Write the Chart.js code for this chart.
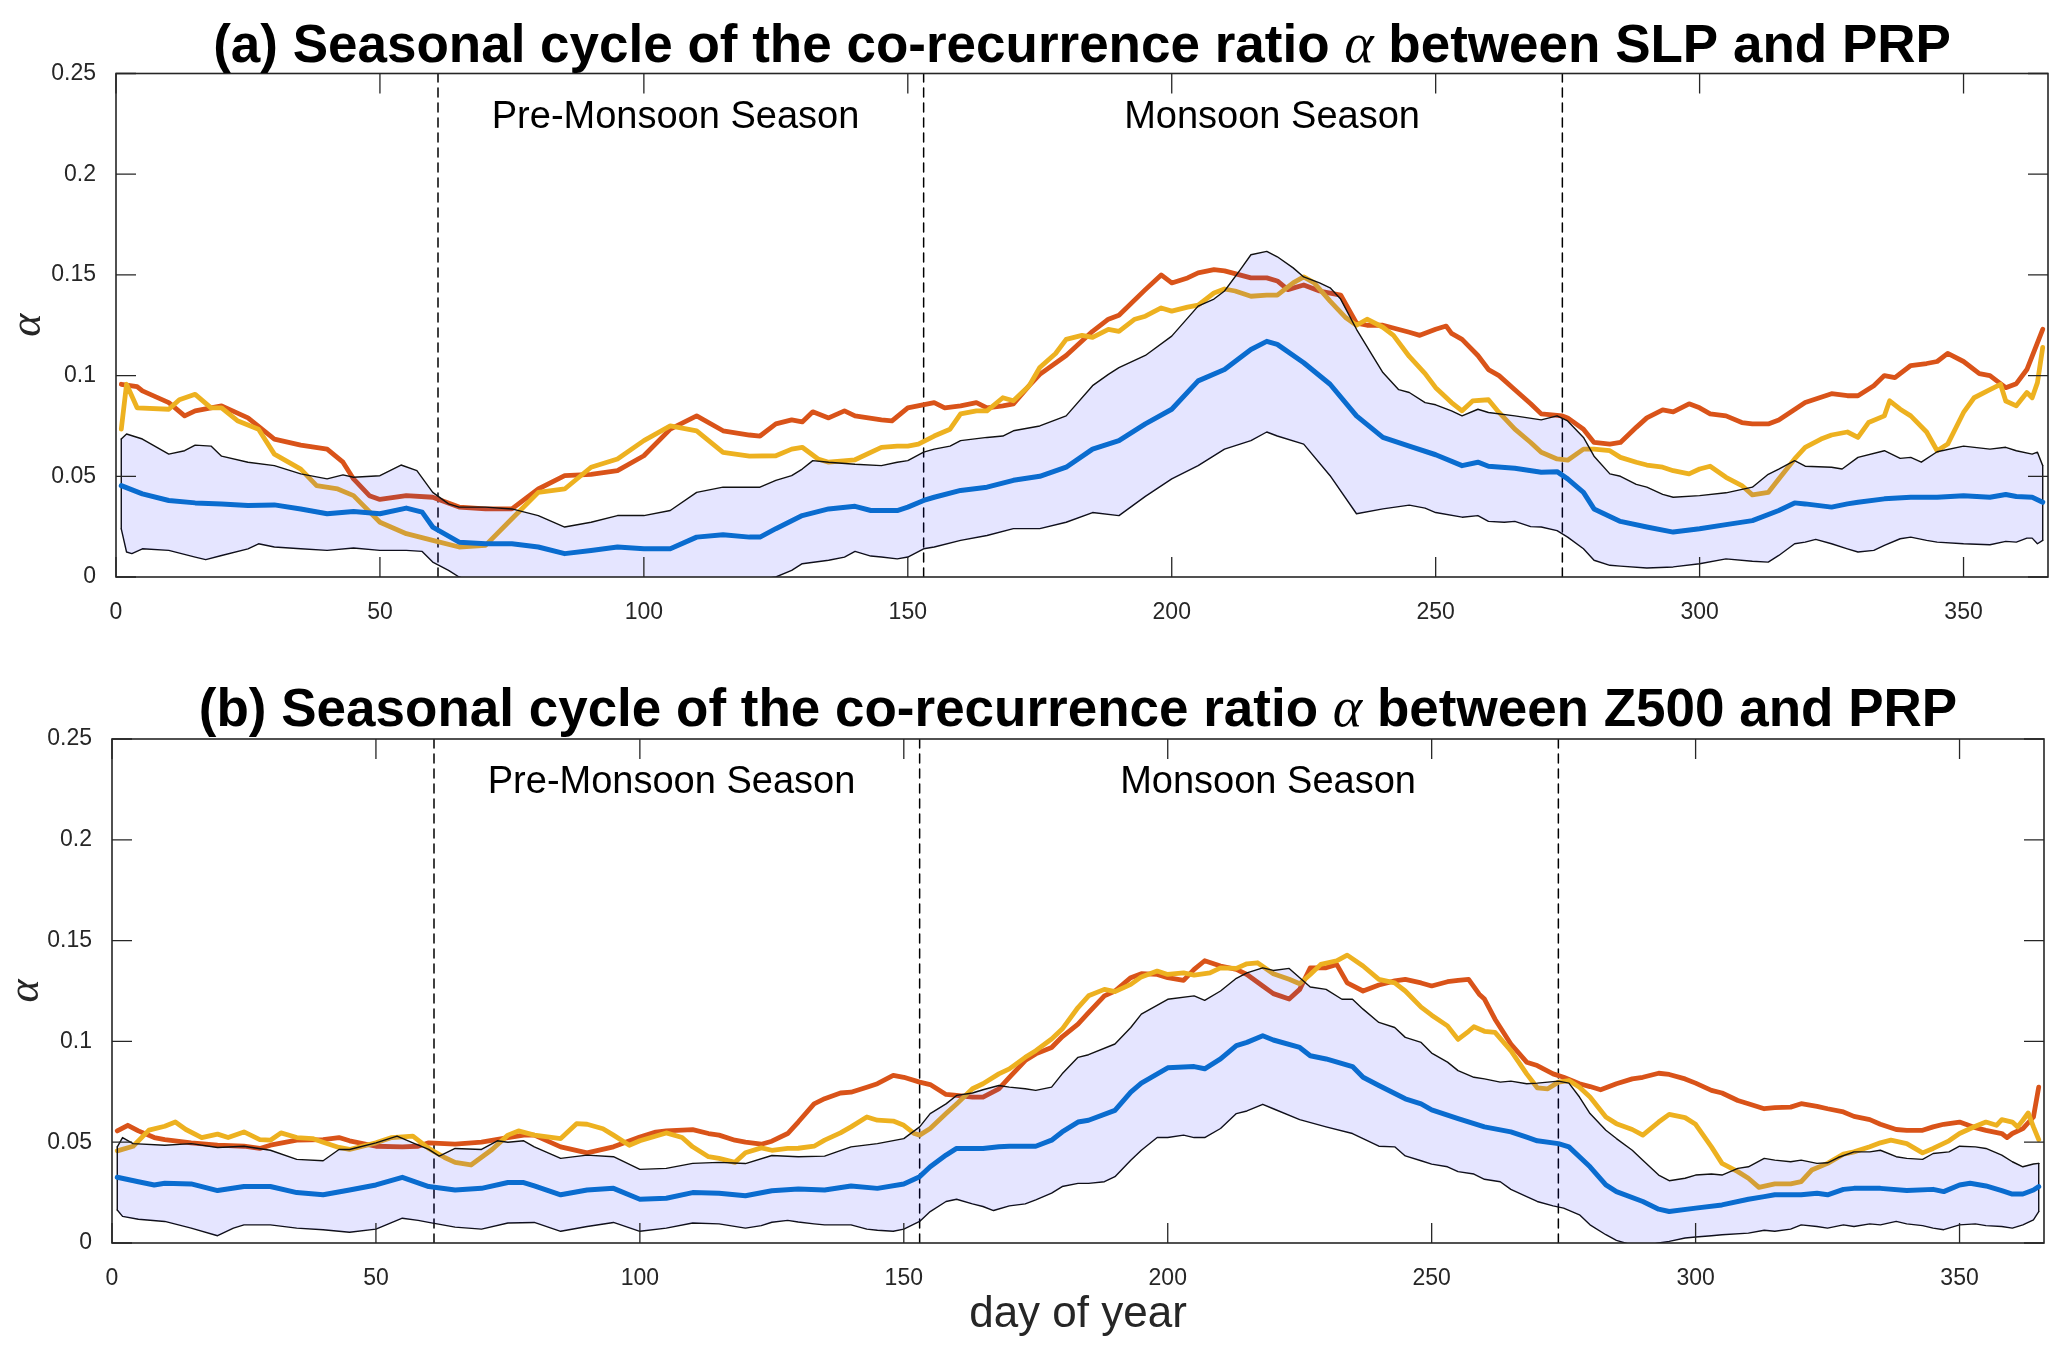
<!DOCTYPE html>
<html><head><meta charset="utf-8">
<script src="https://cdn.jsdelivr.net/npm/chart.js@4.4.1/dist/chart.umd.min.js"></script>
<style>
html,body{margin:0;padding:0;background:#fff;width:2067px;height:1358px;overflow:hidden}
canvas{position:absolute;left:0}
#ca{top:0}
#cb{top:660px}
</style></head><body>
<canvas id="ca" width="2067" height="640"></canvas>
<canvas id="cb" width="2067" height="698"></canvas>
<script>
// ---------------- data ----------------
const xMin = 0, xMax = 366, xStep = 50;
const yMin = 0, yMax = 0.25, yStep = 0.05;
const seasonBounds = [61, 153, 274];
const seasonLabels = ['Pre-Monsoon Season', 'Monsoon Season'];
const seasonLabelDays = [106, 219];
const seasonLabelValue = 0.223;
const titleA = ['(a) Seasonal cycle of the co-recurrence ratio ', 'α', ' between SLP and PRP'];
const titleB = ['(b) Seasonal cycle of the co-recurrence ratio ', 'α', ' between Z500 and PRP'];
const xAxisTitle = 'day of year';
const yAxisTitle = 'α';

// panel (a) SLP
const aRed = [[1,0.0957],[4,0.0945],[5,0.0924],[10,0.0866],[13,0.080],[15,0.0825],[20,0.085],[25,0.079],[30,0.0685],[35,0.0655],[40,0.0635],[43,0.057],[45,0.0487],[48,0.0404],[50,0.0385],[55,0.0404],[60,0.0396],[65,0.0347],[70,0.0338],[75,0.0338],[80,0.0437],[85,0.0503],[90,0.051],[95,0.0528],[100,0.0602],[105,0.0734],[110,0.080],[115,0.0726],[120,0.0705],[122,0.070],[125,0.076],[128,0.078],[130,0.077],[132,0.082],[135,0.079],[138,0.0825],[140,0.080],[145,0.078],[147,0.0775],[150,0.084],[155,0.0866],[157,0.084],[160,0.085],[163,0.0866],[165,0.084],[168,0.085],[170,0.086],[173,0.095],[175,0.1006],[180,0.110],[185,0.122],[188,0.128],[190,0.130],[195,0.1427],[198,0.150],[200,0.146],[203,0.1485],[205,0.151],[208,0.1526],[210,0.152],[215,0.1485],[218,0.1485],[220,0.147],[222,0.1427],[225,0.145],[228,0.142],[230,0.141],[232,0.140],[235,0.126],[237,0.125],[240,0.125],[245,0.1215],[247,0.120],[250,0.123],[252,0.1246],[253,0.121],[255,0.118],[258,0.110],[260,0.103],[262,0.100],[265,0.093],[268,0.086],[270,0.081],[274,0.080],[275,0.079],[278,0.0734],[280,0.0668],[283,0.066],[285,0.0668],[288,0.0743],[290,0.079],[293,0.083],[295,0.082],[298,0.086],[300,0.084],[302,0.081],[305,0.080],[308,0.0767],[310,0.076],[313,0.076],[315,0.078],[320,0.0866],[325,0.091],[328,0.090],[330,0.090],[333,0.095],[335,0.100],[337,0.099],[340,0.105],[343,0.106],[345,0.107],[347,0.111],[350,0.107],[353,0.101],[355,0.100],[358,0.094],[360,0.096],[362,0.103],[365,0.123]];
const aYellow = [[1,0.0734],[2,0.0957],[4,0.084],[10,0.0833],[12,0.088],[15,0.0907],[18,0.084],[20,0.084],[23,0.0776],[27,0.0734],[30,0.061],[35,0.0536],[38,0.0454],[42,0.0437],[45,0.0404],[50,0.0272],[55,0.0215],[60,0.0182],[65,0.0149],[70,0.0157],[75,0.0289],[80,0.042],[85,0.0437],[90,0.0545],[95,0.0586],[100,0.0677],[105,0.075],[110,0.0726],[115,0.0619],[120,0.0600],[125,0.0602],[128,0.0635],[130,0.0644],[133,0.0586],[135,0.057],[140,0.0582],[145,0.0644],[148,0.065],[150,0.065],[152,0.066],[155,0.070],[158,0.0734],[160,0.081],[163,0.0825],[165,0.0825],[168,0.089],[170,0.0875],[173,0.095],[175,0.104],[178,0.111],[180,0.118],[183,0.120],[185,0.119],[188,0.123],[190,0.122],[193,0.128],[195,0.1295],[198,0.1336],[200,0.132],[203,0.134],[205,0.135],[208,0.141],[210,0.143],[212,0.142],[215,0.1394],[218,0.140],[220,0.140],[223,0.146],[225,0.149],[227,0.146],[230,0.137],[233,0.1287],[235,0.125],[237,0.128],[240,0.124],[242,0.120],[245,0.1095],[248,0.101],[250,0.094],[253,0.0866],[255,0.0825],[257,0.0874],[260,0.088],[262,0.0817],[265,0.0734],[268,0.0668],[270,0.0619],[273,0.0586],[275,0.058],[278,0.0635],[280,0.0635],[283,0.0627],[285,0.0594],[288,0.057],[290,0.0556],[293,0.0545],[295,0.0528],[298,0.0512],[300,0.0536],[302,0.055],[305,0.0495],[308,0.0454],[310,0.0408],[313,0.042],[315,0.0487],[318,0.0586],[320,0.0644],[323,0.0685],[325,0.0705],[328,0.072],[330,0.0693],[332,0.0767],[335,0.080],[336,0.0875],[338,0.0833],[340,0.080],[343,0.072],[345,0.0627],[347,0.066],[350,0.0817],[352,0.089],[355,0.093],[357,0.0957],[358,0.0874],[360,0.085],[362,0.0916],[363,0.089],[364,0.0965],[365,0.114]];
const aMean = [[1,0.0454],[5,0.0413],[10,0.038],[15,0.0368],[20,0.0363],[25,0.0355],[30,0.0358],[35,0.0338],[40,0.0314],[45,0.0325],[50,0.0314],[55,0.0342],[58,0.0322],[60,0.0248],[65,0.0173],[70,0.0165],[75,0.0165],[80,0.0149],[85,0.0116],[90,0.0132],[95,0.0149],[100,0.014],[105,0.014],[110,0.0198],[115,0.021],[120,0.0198],[122,0.0198],[125,0.024],[130,0.0305],[135,0.0338],[140,0.0351],[143,0.033],[148,0.033],[150,0.0347],[153,0.038],[155,0.0396],[160,0.043],[165,0.0446],[170,0.048],[175,0.050],[180,0.0545],[185,0.0635],[190,0.0677],[195,0.076],[200,0.0833],[205,0.0974],[210,0.103],[215,0.113],[218,0.117],[220,0.1155],[225,0.1064],[230,0.0957],[235,0.080],[240,0.0693],[245,0.065],[250,0.0607],[255,0.0553],[258,0.057],[260,0.055],[265,0.054],[270,0.052],[273,0.0523],[275,0.0487],[278,0.042],[280,0.0338],[285,0.0276],[290,0.0248],[295,0.0223],[300,0.024],[305,0.026],[310,0.028],[315,0.033],[318,0.0368],[320,0.0363],[325,0.0347],[328,0.0363],[330,0.0371],[335,0.0388],[340,0.0396],[345,0.0396],[350,0.0404],[355,0.0396],[358,0.041],[360,0.040],[363,0.0396],[365,0.0371]];
const aUpper = [[1,0.0685],[2,0.071],[5,0.0685],[10,0.061],[13,0.0627],[15,0.0655],[18,0.065],[20,0.060],[25,0.057],[30,0.0553],[35,0.0512],[40,0.0487],[43,0.0507],[45,0.0495],[50,0.0503],[54,0.0556],[57,0.0528],[60,0.042],[63,0.0363],[65,0.0347],[70,0.0347],[75,0.0338],[80,0.0305],[85,0.0248],[90,0.0272],[95,0.0305],[100,0.0305],[105,0.033],[110,0.042],[115,0.0446],[120,0.0446],[122,0.0446],[125,0.048],[128,0.0503],[130,0.0536],[132,0.0578],[135,0.057],[140,0.056],[145,0.0553],[148,0.057],[150,0.0578],[153,0.062],[155,0.0635],[158,0.065],[160,0.0677],[165,0.0693],[168,0.070],[170,0.0726],[175,0.075],[180,0.080],[185,0.095],[188,0.1006],[190,0.104],[195,0.110],[200,0.1196],[205,0.1345],[208,0.138],[210,0.142],[213,0.1526],[215,0.160],[218,0.1617],[220,0.159],[223,0.1535],[225,0.149],[228,0.146],[230,0.1436],[232,0.138],[235,0.123],[238,0.110],[240,0.1015],[243,0.093],[245,0.0916],[248,0.0866],[250,0.0855],[253,0.0825],[255,0.080],[258,0.0833],[260,0.0817],[265,0.080],[270,0.078],[273,0.080],[275,0.0775],[278,0.0693],[280,0.060],[283,0.0512],[285,0.050],[288,0.046],[290,0.0446],[293,0.041],[295,0.0396],[300,0.0404],[305,0.0418],[310,0.0446],[313,0.051],[315,0.0536],[318,0.0578],[320,0.055],[325,0.0545],[327,0.0536],[330,0.0594],[335,0.0627],[338,0.0589],[340,0.0594],[342,0.057],[345,0.0622],[350,0.065],[355,0.0635],[358,0.0644],[360,0.0627],[363,0.061],[364,0.062],[365,0.0553]];
const aLower = [[1,0.0239],[2,0.0124],[3,0.0116],[5,0.014],[10,0.0132],[15,0.0099],[17,0.0086],[20,0.0107],[25,0.014],[27,0.0165],[30,0.0149],[35,0.014],[40,0.0132],[45,0.0144],[50,0.0132],[55,0.0132],[58,0.0127],[60,0.0074],[63,0.0033],[65,0.0],[70,-0.004],[80,-0.006],[90,-0.007],[100,-0.006],[110,-0.004],[120,-0.002],[125,0.0],[128,0.0033],[130,0.0066],[135,0.0083],[138,0.0099],[140,0.0127],[143,0.0104],[145,0.0099],[148,0.009],[150,0.0099],[153,0.014],[155,0.0149],[160,0.0182],[165,0.0206],[170,0.024],[175,0.024],[180,0.0272],[185,0.032],[190,0.0305],[195,0.040],[200,0.0487],[205,0.0553],[210,0.0635],[215,0.0677],[218,0.072],[220,0.070],[225,0.066],[230,0.0503],[235,0.0314],[240,0.0338],[245,0.0357],[248,0.0342],[250,0.032],[255,0.0297],[258,0.0305],[260,0.0276],[263,0.0272],[265,0.0276],[268,0.025],[270,0.0248],[273,0.023],[275,0.0198],[278,0.014],[280,0.0083],[283,0.0058],[285,0.0054],[290,0.0045],[295,0.005],[300,0.0066],[305,0.009],[310,0.0078],[313,0.0074],[315,0.0107],[318,0.0165],[320,0.0173],[322,0.0187],[325,0.0165],[328,0.014],[330,0.0124],[333,0.0132],[335,0.0157],[338,0.019],[340,0.0198],[343,0.0182],[345,0.0173],[350,0.0165],[355,0.016],[358,0.0177],[360,0.0173],[362,0.0193],[363,0.0193],[364,0.0165],[365,0.0182]];

// panel (b) Z500
const bRed = [[1,0.0556],[3,0.0584],[5,0.0556],[8,0.0523],[10,0.0513],[15,0.0497],[20,0.0485],[25,0.048],[28,0.0469],[30,0.0485],[35,0.051],[40,0.0513],[43,0.0523],[45,0.0507],[50,0.048],[55,0.0477],[58,0.048],[60,0.0497],[65,0.049],[70,0.050],[75,0.0523],[78,0.0535],[80,0.0535],[85,0.0477],[90,0.0447],[95,0.0477],[100,0.0526],[103,0.055],[105,0.0556],[108,0.056],[110,0.0562],[113,0.0543],[115,0.0535],[118,0.051],[120,0.050],[123,0.049],[125,0.0505],[128,0.0543],[130,0.060],[133,0.069],[135,0.0716],[138,0.0744],[140,0.0748],[143,0.0773],[145,0.079],[148,0.0831],[150,0.0822],[153,0.0798],[155,0.0786],[158,0.0737],[160,0.0732],[163,0.0724],[165,0.0724],[168,0.0765],[170,0.0822],[173,0.0905],[175,0.0938],[178,0.097],[180,0.1023],[183,0.1086],[185,0.1143],[188,0.1226],[190,0.125],[193,0.1316],[195,0.1336],[198,0.1332],[200,0.1316],[203,0.1303],[205,0.1357],[207,0.140],[210,0.1374],[213,0.1357],[215,0.1332],[218,0.1275],[220,0.1237],[223,0.121],[225,0.1258],[227,0.1365],[230,0.1365],[232,0.1382],[234,0.129],[237,0.125],[240,0.128],[243,0.130],[245,0.1308],[248,0.129],[250,0.1275],[253,0.1296],[255,0.1303],[257,0.1308],[259,0.1234],[260,0.121],[262,0.111],[265,0.0987],[268,0.0897],[270,0.088],[273,0.0839],[275,0.0822],[278,0.079],[280,0.0776],[282,0.076],[285,0.079],[288,0.0814],[290,0.0822],[293,0.0842],[295,0.0836],[298,0.0814],[300,0.0793],[303,0.0757],[305,0.0744],[308,0.0707],[310,0.0691],[313,0.0666],[315,0.0671],[318,0.0674],[320,0.0691],[323,0.0678],[325,0.0666],[328,0.065],[330,0.0628],[333,0.0612],[335,0.0589],[338,0.0563],[340,0.0559],[343,0.0559],[345,0.0576],[347,0.0589],[350,0.060],[353,0.0572],[355,0.0559],[358,0.0543],[359,0.0523],[360,0.0543],[362,0.0567],[364,0.0625],[365,0.0773]];
const bYellow = [[1,0.0457],[4,0.048],[7,0.056],[10,0.0579],[12,0.060],[14,0.0563],[17,0.0523],[20,0.054],[22,0.0523],[25,0.0551],[28,0.0513],[30,0.051],[32,0.0546],[35,0.0523],[38,0.0518],[40,0.050],[43,0.0474],[45,0.0464],[50,0.0497],[53,0.0523],[57,0.053],[60,0.0469],[63,0.0424],[65,0.040],[68,0.0387],[72,0.0464],[75,0.0535],[77,0.0556],[80,0.0535],[85,0.0518],[88,0.0592],[90,0.0589],[93,0.0567],[95,0.0535],[98,0.0485],[100,0.0507],[105,0.0546],[108,0.0523],[110,0.0477],[113,0.0428],[115,0.042],[118,0.040],[120,0.0448],[123,0.0472],[125,0.046],[128,0.0469],[130,0.047],[133,0.048],[135,0.051],[138,0.0546],[140,0.0576],[143,0.0625],[145,0.0609],[148,0.0605],[150,0.0584],[152,0.0543],[153,0.0535],[155,0.0568],[158,0.0642],[160,0.069],[163,0.0765],[165,0.079],[168,0.0839],[170,0.0864],[173,0.0921],[175,0.0954],[178,0.1012],[180,0.1061],[183,0.1168],[185,0.1226],[188,0.1258],[190,0.1247],[193,0.1283],[195,0.132],[198,0.1349],[200,0.1332],[203,0.134],[205,0.1329],[208,0.134],[210,0.1365],[213,0.1362],[215,0.1385],[217,0.139],[220,0.1336],[223,0.1308],[225,0.1286],[227,0.1332],[229,0.1382],[232,0.140],[234,0.1428],[237,0.1374],[240,0.1308],[243,0.129],[245,0.125],[248,0.117],[250,0.113],[253,0.1077],[255,0.101],[257,0.105],[258,0.1073],[260,0.105],[262,0.1045],[265,0.0954],[268,0.0839],[270,0.077],[272,0.0765],[274,0.0798],[276,0.0806],[278,0.0773],[280,0.0724],[283,0.0625],[285,0.0592],[288,0.0563],[290,0.0535],[293,0.060],[295,0.0638],[298,0.0622],[300,0.0589],[303,0.0477],[305,0.0395],[308,0.0354],[310,0.0321],[312,0.0276],[315,0.0293],[318,0.0293],[320,0.0304],[322,0.0362],[325,0.0395],[328,0.0441],[330,0.0452],[333,0.0477],[335,0.0497],[337,0.051],[340,0.0493],[343,0.0447],[345,0.0469],[348,0.0507],[350,0.0543],[353,0.0579],[355,0.060],[357,0.0584],[358,0.0612],[360,0.060],[361,0.0576],[362,0.0609],[363,0.0645],[364,0.0576],[365,0.0513]];
const bMean = [[1,0.0326],[5,0.0304],[8,0.0288],[10,0.0296],[15,0.0293],[20,0.026],[25,0.028],[30,0.028],[35,0.025],[40,0.0239],[45,0.0263],[50,0.0288],[55,0.0326],[60,0.028],[65,0.0263],[70,0.0271],[75,0.030],[78,0.030],[80,0.0283],[85,0.0239],[90,0.0263],[95,0.0271],[100,0.0217],[105,0.0222],[110,0.025],[115,0.0247],[120,0.0234],[125,0.0259],[130,0.0268],[135,0.0263],[140,0.0283],[145,0.0271],[150,0.0293],[153,0.0329],[155,0.0378],[158,0.0436],[160,0.0469],[165,0.0469],[168,0.0477],[170,0.048],[175,0.048],[178,0.051],[180,0.0551],[183,0.060],[185,0.0609],[190,0.0658],[193,0.0748],[195,0.0793],[200,0.0869],[205,0.0875],[207,0.0864],[210,0.0913],[213,0.0979],[215,0.0995],[218,0.1028],[220,0.1007],[225,0.097],[227,0.0929],[230,0.0913],[235,0.0875],[237,0.0822],[240,0.0781],[245,0.0715],[248,0.069],[250,0.066],[255,0.0617],[260,0.0576],[265,0.0551],[268,0.0525],[270,0.0507],[274,0.0493],[276,0.0477],[280,0.0378],[283,0.0288],[285,0.0255],[290,0.0206],[293,0.0168],[295,0.0156],[300,0.0173],[305,0.0189],[310,0.0217],[313,0.023],[315,0.0239],[320,0.0239],[323,0.0247],[325,0.0239],[328,0.0266],[330,0.0271],[335,0.0271],[340,0.026],[345,0.0266],[347,0.0255],[350,0.0288],[352,0.0296],[355,0.0283],[358,0.026],[360,0.0243],[362,0.0243],[364,0.0263],[365,0.028]];
const bUpper = [[1,0.0477],[2,0.0523],[4,0.0493],[10,0.0485],[15,0.0493],[20,0.0474],[25,0.048],[30,0.046],[35,0.0415],[40,0.0408],[43,0.0464],[45,0.0464],[50,0.0497],[54,0.053],[57,0.0497],[60,0.0464],[62,0.0431],[65,0.0469],[70,0.0464],[73,0.0507],[75,0.050],[78,0.0507],[80,0.0477],[85,0.042],[90,0.0436],[95,0.0428],[100,0.0365],[105,0.037],[110,0.0395],[115,0.040],[120,0.0394],[125,0.0434],[130,0.0428],[135,0.0431],[140,0.0477],[145,0.0493],[150,0.0518],[153,0.0576],[155,0.0642],[158,0.069],[160,0.0732],[163,0.0744],[165,0.076],[168,0.0781],[170,0.0773],[173,0.0765],[175,0.0757],[178,0.0773],[180,0.0839],[183,0.0921],[185,0.0934],[190,0.0987],[193,0.1069],[195,0.1135],[200,0.1209],[205,0.1226],[207,0.1204],[210,0.125],[213,0.1313],[215,0.134],[218,0.1365],[220,0.1352],[223,0.1362],[225,0.1316],[227,0.127],[230,0.1258],[233,0.1209],[235,0.1209],[237,0.116],[240,0.1094],[243,0.1069],[245,0.102],[248,0.0995],[250,0.0942],[253,0.0897],[255,0.0855],[258,0.0822],[260,0.0814],[263,0.0798],[265,0.0803],[268,0.079],[270,0.0793],[272,0.0798],[274,0.0803],[276,0.0793],[278,0.0724],[280,0.0642],[283,0.0559],[285,0.0518],[288,0.046],[290,0.0411],[293,0.0337],[295,0.0309],[298,0.0321],[300,0.0337],[303,0.0342],[305,0.0337],[308,0.037],[310,0.0378],[313,0.042],[315,0.0411],[318,0.0403],[320,0.0411],[323,0.0395],[325,0.0398],[327,0.0424],[330,0.0452],[333,0.0452],[335,0.046],[338,0.0428],[340,0.042],[343,0.0415],[345,0.0444],[348,0.0452],[350,0.048],[353,0.0477],[355,0.0469],[358,0.0436],[360,0.0403],[362,0.0378],[364,0.0392],[365,0.0395]];
const bLower = [[1,0.0164],[2,0.0132],[5,0.0118],[10,0.0107],[15,0.0074],[20,0.0036],[23,0.0074],[25,0.009],[30,0.009],[35,0.0074],[40,0.0066],[45,0.0053],[50,0.0069],[55,0.0123],[58,0.0112],[60,0.0102],[65,0.0079],[70,0.0069],[75,0.0099],[80,0.0102],[85,0.0058],[90,0.0082],[95,0.0102],[100,0.0058],[105,0.0074],[110,0.0099],[115,0.0095],[120,0.0074],[123,0.0086],[125,0.0103],[128,0.0112],[130,0.0104],[133,0.0095],[135,0.009],[140,0.009],[143,0.0069],[145,0.0063],[148,0.0058],[150,0.0069],[153,0.0107],[155,0.0156],[158,0.0206],[160,0.0217],[163,0.0194],[165,0.0181],[167,0.0161],[170,0.0184],[173,0.0194],[175,0.0214],[178,0.0247],[180,0.028],[183,0.0296],[185,0.0296],[188,0.0304],[190,0.0329],[193,0.0411],[195,0.046],[198,0.0523],[200,0.0523],[203,0.0535],[205,0.0523],[207,0.0523],[210,0.0568],[213,0.0642],[215,0.0655],[218,0.0688],[220,0.0666],[225,0.0612],[230,0.0576],[235,0.0543],[237,0.0518],[240,0.048],[243,0.0477],[245,0.0432],[248,0.0408],[250,0.0391],[253,0.0378],[255,0.0354],[258,0.0342],[260,0.0316],[263,0.0304],[265,0.0266],[268,0.023],[270,0.0206],[273,0.0184],[275,0.0173],[278,0.014],[280,0.009],[283,0.0041],[285,0.0013],[288,-0.001],[291,-0.001],[293,0.0],[295,0.0008],[298,0.0025],[300,0.003],[303,0.0036],[305,0.0041],[310,0.0049],[313,0.0063],[315,0.0058],[318,0.0069],[320,0.009],[323,0.0082],[325,0.0074],[328,0.009],[330,0.0082],[333,0.0095],[335,0.009],[338,0.0107],[340,0.0095],[343,0.0086],[345,0.0074],[347,0.0066],[350,0.009],[353,0.0095],[355,0.0086],[358,0.0082],[360,0.0074],[362,0.009],[364,0.0115],[365,0.0156]];

// ---------------- styling ----------------
const COL_RED = '#D95319', COL_YEL = '#EDB120', COL_BLUE = '#0a6ccf';
const COL_FILL = 'rgba(0,0,255,0.10)', COL_AXIS = '#262626';
const SANS = '"Liberation Sans", Arial, Helvetica, sans-serif';
const SERIF = '"Liberation Serif", "Times New Roman", serif';

const pts = arr => arr.map(p => ({x: p[0], y: p[1]}));

const decor = {
  id: 'decor',
  afterDraw(chart, args, o) {
    const {ctx, chartArea: a, scales: {x, y}} = chart;
    ctx.save();
    ctx.strokeStyle = COL_AXIS;
    ctx.lineWidth = 1.3;
    ctx.beginPath();
    x.ticks.forEach(t => {
      const px = x.getPixelForValue(t.value);
      ctx.moveTo(px, a.bottom); ctx.lineTo(px, a.bottom - 20);
      ctx.moveTo(px, a.top); ctx.lineTo(px, a.top + 20);
    });
    y.ticks.forEach(t => {
      const py = y.getPixelForValue(t.value);
      ctx.moveTo(a.left, py); ctx.lineTo(a.left + 20, py);
      ctx.moveTo(a.right, py); ctx.lineTo(a.right - 20, py);
    });
    ctx.stroke();
    ctx.lineWidth = 1.6;
    ctx.strokeRect(a.left, a.top, a.right - a.left, a.bottom - a.top);
    // season labels
    ctx.fillStyle = '#000';
    ctx.font = '38px ' + SANS;
    ctx.textAlign = 'center';
    ctx.textBaseline = 'alphabetic';
    seasonLabels.forEach((s, i) => {
      ctx.fillText(s, x.getPixelForValue(seasonLabelDays[i]), y.getPixelForValue(seasonLabelValue));
    });
    // title with italic alpha
    const fonts = ['bold 53px ' + SANS, 'italic 56px ' + SERIF, 'bold 53px ' + SANS];
    const parts = o.title;
    const widths = parts.map((p, i) => { ctx.font = fonts[i]; return ctx.measureText(p).width; });
    const total = widths.reduce((s, w) => s + w, 0);
    let cx = (a.left + a.right) / 2 - total / 2;
    const by = a.top - o.titleGap;
    ctx.textAlign = 'left';
    parts.forEach((p, i) => { ctx.font = fonts[i]; ctx.fillText(p, cx, by); cx += widths[i]; });
    ctx.restore();
  }
};

function makeChart(id, s, opt) {
  const dashed = seasonBounds.map(d => ({
    data: [{x: d, y: yMin}, {x: d, y: yMax}],
    borderColor: '#000', borderWidth: 1.5, borderDash: [9, 6], pointRadius: 0, order: 5, fill: false
  }));
  const lo0 = s.lower[0], up0 = s.upper[0];
  const loN = s.lower[s.lower.length - 1], upN = s.upper[s.upper.length - 1];
  const edge = (p, q) => ({
    data: [{x: p[0], y: p[1]}, {x: q[0], y: q[1]}],
    borderColor: '#111', borderWidth: 1.4, pointRadius: 0, order: 2, fill: false
  });
  const datasets = [
    {label: 'red', data: pts(s.red), borderColor: COL_RED, borderWidth: 4.8, pointRadius: 0, order: 4, fill: false},
    {label: 'yellow', data: pts(s.yellow), borderColor: COL_YEL, borderWidth: 4.8, pointRadius: 0, order: 3, fill: false},
    {label: 'lower', data: pts(s.lower), borderColor: '#111', borderWidth: 1.4, pointRadius: 0, order: 2, fill: false},
    {label: 'upper', data: pts(s.upper), borderColor: '#111', borderWidth: 1.4, pointRadius: 0, order: 1,
      fill: 2, backgroundColor: COL_FILL},
    {label: 'mean', data: pts(s.mean), borderColor: COL_BLUE, borderWidth: 5, pointRadius: 0, order: 0, fill: false},
    ...dashed,
    edge(lo0, up0), edge(loN, upN)
  ];
  return new Chart(document.getElementById(id), {
    type: 'line',
    data: {datasets},
    plugins: [decor],
    options: {
      responsive: false, animation: false, devicePixelRatio: 1,
      events: [],
      layout: {padding: opt.padding},
      elements: {line: {tension: 0, borderJoinStyle: 'round', borderCapStyle: 'round'}},
      plugins: {legend: {display: false}, tooltip: {enabled: false},
        decor: {title: opt.title, titleGap: opt.titleGap}},
      scales: {
        x: {
          type: 'linear', min: xMin, max: xMax,
          grid: {display: false}, border: {display: false},
          ticks: {stepSize: xStep, color: COL_AXIS, padding: 14, maxRotation: 0, autoSkip: false,
            font: {family: SANS, size: 23}},
          afterBuildTicks: sc => { sc.ticks = sc.ticks.filter(t => t.value % xStep === 0); },
          afterFit: sc => { sc.height = opt.xHeight; },
          title: opt.xTitle ? {display: true, text: xAxisTitle, color: '#262626',
            font: {family: SANS, size: 44}, padding: {top: 0, bottom: 17}} : {display: false}
        },
        y: {
          type: 'linear', min: yMin, max: yMax,
          grid: {display: false}, border: {display: false},
          ticks: {stepSize: yStep, color: COL_AXIS, padding: 12,
            font: {family: SANS, size: 23},
            callback: v => String(+v.toFixed(2))},
          afterFit: sc => { sc.width = opt.yWidth; },
          title: {display: true, text: yAxisTitle, color: '#262626',
            font: {family: SERIF, size: 44, style: 'italic'}, padding: {top: opt.yTitlePad, bottom: 0}}
        }
      }
    }
  });
}

makeChart('ca', {red: aRed, yellow: aYellow, mean: aMean, upper: aUpper, lower: aLower}, {
  padding: {left: 0, right: 19, top: 73.5, bottom: 0},
  xHeight: 63, yWidth: 116, yTitlePad: 2, title: titleA, titleGap: 12, xTitle: false
});
makeChart('cb', {red: bRed, yellow: bYellow, mean: bMean, upper: bUpper, lower: bLower}, {
  padding: {left: 0, right: 23, top: 79, bottom: 0},
  xHeight: 115, yWidth: 112, yTitlePad: 0, title: titleB, titleGap: 13, xTitle: true
});
</script>
</body></html>
